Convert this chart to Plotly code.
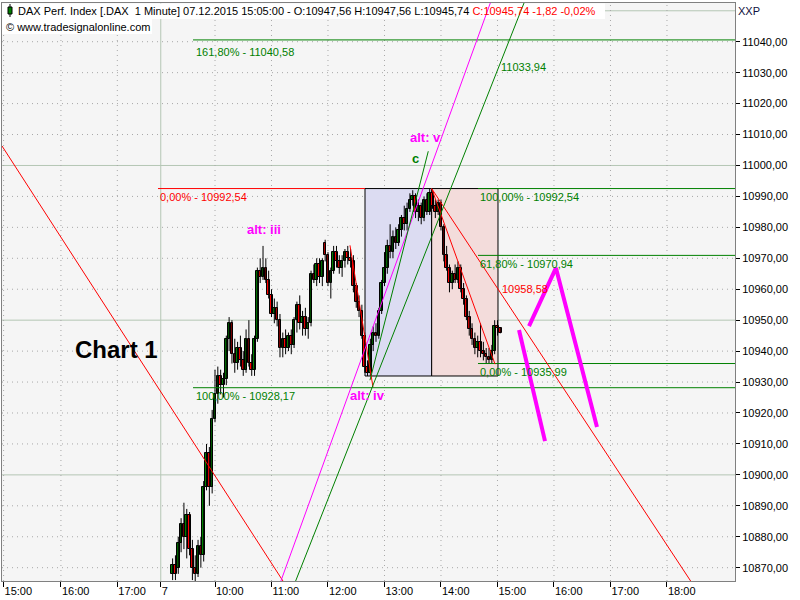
import plotly.graph_objects as go

# ---------------- data ----------------
# 3-minute bars, x in clock hours of 07.12.2015
bar_start_hour = 9.25
bar_step_hour = 0.05
open_ = [10868, 10871, 10870, 10878, 10884, 10880, 10887, 10876, 10870, 10868,
         10877, 10874, 10896, 10907, 10896, 10918, 10926, 10932, 10929, 10931,
         10944, 10949, 10939, 10936, 10941, 10937, 10934, 10944, 10936, 10934,
         10944, 10966, 10964, 10967, 10963, 10958, 10952, 10954, 10950, 10941,
         10944, 10941, 10945, 10942, 10950, 10955, 10949, 10951, 10947, 10949,
         10965, 10963, 10968, 10964, 10975, 10971, 10962, 10966, 10972, 10969,
         10967, 10969, 10972, 10970, 10969, 10961, 10956, 10953, 10945, 10935,
         10933, 10942, 10946, 10945, 10953, 10962, 10967, 10974, 10972, 10977,
         10975, 10979, 10983, 10981, 10986, 10989, 10990, 10985, 10987, 10983,
         10989, 10985, 10991, 10987, 10985, 10988, 10980, 10971, 10967, 10962,
         10965, 10963, 10967, 10960, 10957, 10951, 10947, 10944, 10941, 10943,
         10940, 10939, 10938, 10937, 10940, 10948, 10947.56]
high = [10873, 10874, 10880, 10886, 10891, 10889, 10888, 10879, 10874, 10879,
        10880, 10898, 10910, 10909, 10921, 10934, 10935, 10934, 10933, 10945,
        10951, 10950, 10944, 10943, 10945, 10940, 10947, 10950, 10939, 10945,
        10967, 10970, 10974, 10970, 10966, 10960, 10957, 10956, 10952, 10946,
        10947, 10946, 10947, 10951, 10956, 10958, 10953, 10954, 10951, 10966,
        10968, 10970, 10970, 10970, 10976, 10972, 10967, 10974, 10974, 10971,
        10971, 10973, 10974, 10973, 10971, 10962, 10958, 10955, 10946, 10937,
        10944, 10948, 10949, 10954, 10963, 10972, 10976, 10981, 10979, 10980,
        10981, 10984, 10987, 10988, 10991, 10992, 10991, 10989, 10988, 10990,
        10991, 10992.54, 10992, 10989, 10989, 10989, 10981, 10974, 10968, 10966,
        10968, 10969, 10968, 10962, 10958, 10953, 10949, 10946, 10945, 10949,
        10943, 10941, 10941, 10942, 10950, 10950, 10947.56]
low = [10866, 10866, 10868, 10875, 10876, 10873, 10874, 10866, 10865, 10867,
       10870, 10872, 10895, 10890, 10894, 10917, 10923, 10926, 10925, 10929,
       10940, 10936, 10933, 10934, 10935, 10932, 10933, 10935, 10932, 10932,
       10943, 10962, 10963, 10962, 10957, 10951, 10949, 10948, 10938, 10938,
       10939, 10940, 10939, 10941, 10946, 10947, 10945, 10945, 10944, 10948,
       10962, 10961, 10962, 10961, 10969, 10961, 10957, 10965, 10967, 10965,
       10964, 10967, 10968, 10967, 10959, 10954, 10951, 10944, 10933, 10931.96,
       10932, 10940, 10943, 10944, 10952, 10961, 10965, 10970, 10970, 10973,
       10974, 10977, 10979, 10979, 10985, 10987, 10983, 10982, 10981, 10982,
       10984, 10984, 10986, 10983, 10984, 10979, 10969, 10966, 10959, 10960,
       10962, 10962, 10959, 10955, 10950, 10945, 10942, 10939, 10938, 10938,
       10937, 10935.99, 10936, 10936, 10939, 10945, 10945.74]
close = [10871, 10868, 10878, 10884, 10880, 10887, 10876, 10870, 10868, 10877,
         10874, 10896, 10907, 10896, 10918, 10926, 10932, 10929, 10931, 10944,
         10949, 10939, 10936, 10941, 10937, 10934, 10944, 10936, 10934, 10944,
         10966, 10964, 10967, 10963, 10958, 10952, 10954, 10950, 10941, 10944,
         10941, 10945, 10942, 10950, 10955, 10949, 10951, 10947, 10949, 10965,
         10963, 10968, 10964, 10969, 10971, 10962, 10966, 10972, 10969, 10967,
         10969, 10972, 10970, 10969, 10961, 10956, 10953, 10945, 10935, 10933,
         10942, 10946, 10945, 10953, 10962, 10967, 10974, 10972, 10977, 10975,
         10979, 10983, 10981, 10986, 10989, 10990, 10985, 10987, 10983, 10989,
         10985, 10991, 10987, 10985, 10988, 10980, 10971, 10967, 10962, 10965,
         10963, 10967, 10960, 10957, 10951, 10947, 10944, 10941, 10943, 10940,
         10939, 10938, 10937, 10940, 10948, 10947.5, 10945.74]
times = [bar_start_hour + bar_step_hour * i for i in range(len(close))]

# axis ticks
x_tick_vals = [6.258, 7.273, 8.271, 9.04, 10, 11, 12, 13, 14, 15, 16, 17, 18]
x_tick_text = ["15:00", "16:00", "17:00", "7", "10:00", "11:00", "12:00", "13:00",
               "14:00", "15:00", "16:00", "17:00", "18:00"]
y_tick_vals = list(range(10870, 11041, 10))
y_tick_text = [f"{v},00" for v in y_tick_vals]
x_range = [6.230, 19.204]
y_range = [10865.70, 11052.51]

# fibonacci levels: (price, x start, x end, colour, label, label x, label y)
fib_levels = [
    (11040.58, 9.611, 19.3, "#008000", "161,80% - 11040,58", 9.628, 11036.6),
    (10928.17, 9.611, 19.3, "#008000", "100,00% - 10928,17", 9.628, 10925.5),
    (10992.54, 8.991, 12.655, "#ff0000", "0,00% - 10992,54", 8.991, 10989.8),
    (10992.54, 14.655, 19.3, "#008000", "100,00% - 10992,54", 14.655, 10989.8),
    (10970.94, 14.655, 19.3, "#008000", "61,80% - 10970,94", 14.655, 10968.2),
    (10935.99, 14.655, 19.3, "#008000", "0,00% - 10935,99", 14.655, 10933.3),
]
# boxes: (x0, x1, low, high, fill)
boxes = [
    (12.655, 13.835, 10931.96, 10992.54, "#dcdcf2"),
    (13.835, 15.009, 10931.96, 10992.54, "#f3dcdb"),
]
# trend lines: (xs, ys, colour, width)
trend_lines = [
    ([6.230, 11.327], [11006.3, 10862.2], "#ff0000", 1),
    ([13.835, 18.549], [10992.54, 10862.1], "#ff0000", 1),
    ([13.835, 14.956], [10992.54, 10935.8], "#ff0000", 1),
    ([12.389, 12.796], [10974.2, 10928.4], "#ff0000", 1),
    ([11.113, 14.942], [10863.0, 11056.0], "#ff00ff", 1),
    ([11.369, 15.545], [10863.0, 11056.0], "#008000", 1),
    ([12.743, 13.775], [10930.6, 11004.6], "#008000", 1),
    ([15.381, 15.841], [10946.8, 10910.9], "#ff00ff", 4),
    ([15.558, 16.035, 16.761], [10948.1, 10966.9, 10915.5], "#ff00ff", 4),
]
# text labels in data coordinates: (text, x, y, colour, size, bold, anchor)
chart_labels = [
    ("10958,58", 15.044, 10960.2, "#ff0000", 11, False, "left"),
    ("11033,94", 15.027, 11031.8, "#008000", 11, False, "left"),
    ("alt: v", 13.717, 11009.2, "#ff00ff", 13, True, "center"),
    ("alt: iii", 10.867, 10979.4, "#ff00ff", 13, True, "center"),
    ("alt: iv", 12.708, 10925.5, "#ff00ff", 13, True, "center"),
    ("c", 13.540, 11002.4, "#008000", 13, True, "center"),
]

FONT = "Liberation Sans, Arial, sans-serif"
BODY_W = 0.045  # candle body width in hours

# pixel -> paper helpers for the page furniture
PX0, PX1, PY0, PY1 = 2, 735, 3, 581
def pxx(p):
    return (p - PX0) / (PX1 - PX0)
def pxy(p):
    return (PY1 - p) / (PY1 - PY0)

fig = go.Figure()

# wicks
wx, wy = [], []
for t, h, l in zip(times, high, low):
    wx += [t, t, None]
    wy += [l, h, None]
fig.add_trace(go.Scatter(x=wx, y=wy, mode="lines", line=dict(color="#000000", width=1),
                         hoverinfo="skip", showlegend=False))
# bodies
body_base = [min(o, c) for o, c in zip(open_, close)]
body_len = [max(abs(c - o), 0.15) for o, c in zip(open_, close)]
body_col = ["#008000" if c >= o else "#ff0000" for o, c in zip(open_, close)]
fig.add_trace(go.Bar(x=times, y=body_len, base=body_base, width=BODY_W,
                     marker=dict(color=body_col, line=dict(color="#000000", width=1)),
                     hoverinfo="skip", showlegend=False))

for price, xa, xb, col, _, _, _ in fib_levels:
    fig.add_trace(go.Scatter(x=[xa, xb], y=[price, price], mode="lines",
                             line=dict(color=col, width=1), hoverinfo="skip",
                             showlegend=False))
for xs, ys, col, w in trend_lines:
    fig.add_trace(go.Scatter(x=xs, y=ys, mode="lines",
                             line=dict(color=col, width=w), hoverinfo="skip",
                             showlegend=False))

shapes = []
for x0, x1, lo, hi, fill in boxes:
    shapes.append(dict(type="rect", xref="x", yref="y", x0=x0, x1=x1, y0=lo, y1=hi,
                       fillcolor=fill, line=dict(color="#000000", width=1),
                       layer="below"))
# grid
for v in range(10870, 11051, 10):
    if v % 50 == 0:
        shapes.append(dict(type="line", xref="paper", yref="y", x0=0, x1=1, y0=v, y1=v,
                           line=dict(color="#b4c6b4", width=1), layer="between"))
    else:
        shapes.append(dict(type="line", xref="paper", yref="y", x0=0, x1=1, y0=v, y1=v,
                           line=dict(color="#a8a8a8", width=1, dash="1px,4px"),
                           layer="between"))
for v, t in zip(x_tick_vals, x_tick_text):
    if t == "7":
        shapes.append(dict(type="line", xref="x", yref="paper", x0=v, x1=v, y0=0, y1=1,
                           line=dict(color="#b4c6b4", width=1), layer="between"))
    else:
        shapes.append(dict(type="line", xref="x", yref="paper", x0=v, x1=v, y0=0, y1=1,
                           line=dict(color="#a8a8a8", width=1, dash="1px,4px"),
                           layer="between"))
# header background + symbol icon
shapes.append(dict(type="rect", xref="paper", yref="paper", x0=pxx(2), x1=pxx(605),
                   y0=pxy(19), y1=pxy(3.5), fillcolor="#ffffff", line=dict(width=0),
                   layer="between"))
shapes.append(dict(type="rect", xref="paper", yref="paper", x0=pxx(2), x1=pxx(152),
                   y0=pxy(34), y1=pxy(19), fillcolor="#ffffff", line=dict(width=0),
                   layer="between"))
shapes.append(dict(type="line", xref="paper", yref="paper", x0=pxx(10), x1=pxx(10),
                   y0=pxy(17), y1=pxy(4), line=dict(color="#000000", width=1)))
shapes.append(dict(type="rect", xref="paper", yref="paper", x0=pxx(8), x1=pxx(12),
                   y0=pxy(14), y1=pxy(7), fillcolor="#008000",
                   line=dict(color="#000000", width=1)))

annotations = []
for price, xa, xb, col, label, lx, ly in fib_levels:
    annotations.append(dict(text=label, x=lx, y=ly, xref="x", yref="y",
                            xanchor="left", yanchor="middle", showarrow=False,
                            font=dict(family=FONT, size=11, color=col)))
for text, lx, ly, col, size, bold, anc in chart_labels:
    annotations.append(dict(text=f"<b>{text}</b>" if bold else text, x=lx, y=ly,
                            xref="x", yref="y", xanchor=anc, yanchor="middle",
                            showarrow=False, font=dict(family=FONT, size=size, color=col)))
annotations.append(dict(
    text=("DAX Perf. Index [.DAX&nbsp; 1 Minute] 07.12.2015 15:05:00 - O:10947,56 "
          "H:10947,56 L:10945,74 <span style='color:#ff0000'>C:10945,74 -1,82 -0,02%</span>"),
    x=pxx(16), y=pxy(10.5), xref="paper", yref="paper", xanchor="left", yanchor="middle",
    showarrow=False, font=dict(family=FONT, size=11, color="#000000")))
annotations.append(dict(text="© www.tradesignalonline.com", x=pxx(4), y=pxy(26.5),
                        xref="paper", yref="paper", xanchor="left", yanchor="middle",
                        showarrow=False, font=dict(family=FONT, size=11, color="#000000")))
annotations.append(dict(text="<b>Chart 1</b>", x=pxx(73), y=pxy(349), xref="paper",
                        yref="paper", xanchor="left", yanchor="middle", showarrow=False,
                        font=dict(family=FONT, size=24, color="#000000")))
annotations.append(dict(text="XXP", x=pxx(736), y=pxy(11), xref="paper", yref="paper",
                        xanchor="left", yanchor="middle", showarrow=False,
                        font=dict(family=FONT, size=11, color="#101040")))

fig.update_layout(
    width=800, height=600,
    margin=dict(l=2, r=65, t=3, b=19),
    paper_bgcolor="#ffffff", plot_bgcolor="#f5f5f5",
    showlegend=False, hovermode=False, barmode="overlay", bargap=0,
    shapes=shapes, annotations=annotations,
    xaxis=dict(range=x_range, tickmode="array", tickvals=x_tick_vals,
               ticktext=x_tick_text, ticks="outside", ticklen=5, tickcolor="#000000",
               ticklabelposition="outside right", showgrid=False, zeroline=False,
               showline=True, mirror=True, linecolor="#808080", linewidth=1,
               tickfont=dict(family=FONT, size=11, color="#000000")),
    yaxis=dict(range=y_range, side="right", tickmode="array", tickvals=y_tick_vals,
               ticktext=y_tick_text, ticks="outside", ticklen=4, tickcolor="#000000",
               showgrid=False, zeroline=False, showline=True, mirror=True,
               linecolor="#808080", linewidth=1,
               tickfont=dict(family=FONT, size=11, color="#000000")),
)

fig.write_html("out.html", config={"displayModeBar": False},
               post_script="document.body.style.margin='0px';")
